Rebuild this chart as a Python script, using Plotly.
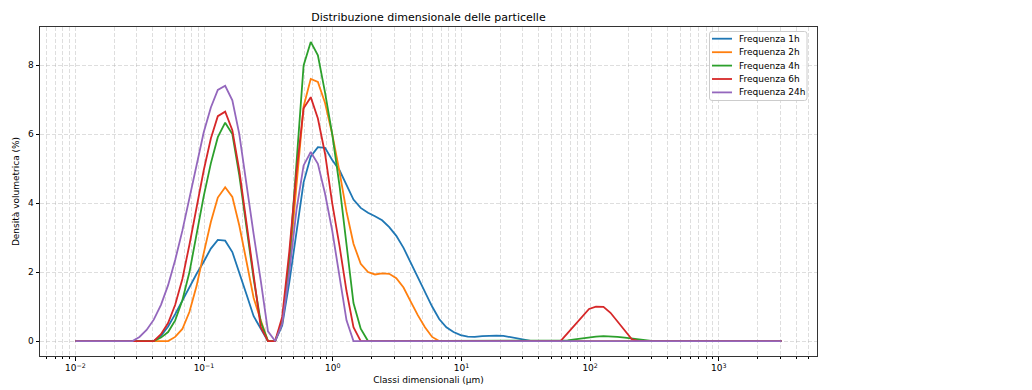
import numpy as np
import plotly.graph_objects as go

# Size classes (µm)
classes = [
    0.0100, 0.0114, 0.0129, 0.0147, 0.0167, 0.0189, 0.0215, 0.0244, 0.0278, 0.0315,
    0.0358, 0.0407, 0.0463, 0.0526, 0.0597, 0.0679, 0.0771, 0.0876, 0.0995, 0.113,
    0.128, 0.146, 0.166, 0.188, 0.214, 0.243, 0.276, 0.314, 0.357, 0.405,
    0.460, 0.523, 0.594, 0.675, 0.767, 0.872, 0.991, 1.13, 1.28, 1.45,
    1.65, 1.88, 2.13, 2.42, 2.75, 3.12, 3.55, 4.03, 4.58, 5.21,
    5.92, 6.72, 7.64, 8.68, 9.86, 11.2, 12.7, 14.5, 16.4, 18.7,
    21.2, 24.1, 27.4, 31.1, 35.3, 40.1, 45.6, 51.8, 58.9, 66.9,
    76.0, 86.4, 98.1, 111, 127, 144, 163, 186, 211, 240,
    272, 310, 352, 400, 454, 516, 586, 666, 756, 859,
    976, 1110, 1260, 1430, 1630, 1850, 2100, 2390, 2710, 3080,
]

freq_1h = [
    0, 0, 0, 0, 0, 0, 0, 0, 0, 0,
    0, 0, 0.15, 0.42, 0.78, 1.18, 1.60, 1.95, 2.30, 2.68,
    2.93, 2.91, 2.58, 2.00, 1.35, 0.72, 0.35, 0, 0, 0.45,
    1.70, 3.20, 4.60, 5.35, 5.62, 5.60, 5.25, 4.95, 4.50, 4.10,
    3.86, 3.72, 3.62, 3.50, 3.30, 3.05, 2.70, 2.27, 1.84, 1.42,
    1.00, 0.64, 0.40, 0.26, 0.17, 0.13, 0.12, 0.14, 0.16, 0.16,
    0.15, 0.11, 0.07, 0.03, 0, 0, 0, 0, 0, 0,
    0, 0, 0, 0, 0, 0, 0, 0, 0, 0,
    0, 0, 0, 0, 0, 0, 0, 0, 0, 0,
    0, 0, 0, 0, 0, 0, 0, 0, 0, 0,
]
freq_2h = [
    0, 0, 0, 0, 0, 0, 0, 0, 0, 0,
    0, 0, 0, 0, 0.12, 0.35, 0.85, 1.60, 2.55, 3.45,
    4.16, 4.46, 4.18, 3.35, 2.30, 1.25, 0.60, 0, 0, 0.55,
    2.20, 4.60, 6.80, 7.60, 7.51, 6.90, 6.00, 4.90, 3.75, 2.82,
    2.24, 2.00, 1.93, 1.96, 1.95, 1.82, 1.55, 1.15, 0.75, 0.40,
    0.12, 0, 0, 0, 0, 0, 0, 0, 0, 0,
    0, 0, 0, 0, 0, 0, 0, 0, 0, 0,
    0, 0, 0, 0, 0, 0, 0, 0, 0, 0,
    0, 0, 0, 0, 0, 0, 0, 0, 0, 0,
    0, 0, 0, 0, 0, 0, 0, 0, 0, 0,
]
freq_4h = [
    0, 0, 0, 0, 0, 0, 0, 0, 0, 0,
    0, 0, 0.10, 0.26, 0.60, 1.18, 2.00, 3.10, 4.20, 5.15,
    5.91, 6.33, 6.00, 4.80, 3.30, 1.80, 0.55, 0, 0, 0.55,
    2.30, 5.10, 7.99, 8.67, 8.28, 7.20, 6.00, 4.50, 2.85, 1.10,
    0.36, 0, 0, 0, 0, 0, 0, 0, 0, 0,
    0, 0, 0, 0, 0, 0, 0, 0, 0, 0,
    0, 0, 0, 0, 0, 0, 0, 0, 0, 0.02,
    0.05, 0.08, 0.11, 0.13, 0.14, 0.14, 0.12, 0.10, 0.07, 0.04,
    0.01, 0, 0, 0, 0, 0, 0, 0, 0, 0,
    0, 0, 0, 0, 0, 0, 0, 0, 0, 0,
]
freq_6h = [
    0, 0, 0, 0, 0, 0, 0, 0, 0, 0,
    0, 0, 0.20, 0.52, 1.05, 1.80, 2.80, 3.90, 4.95, 5.87,
    6.52, 6.65, 6.11, 4.95, 3.40, 1.80, 0.40, 0, 0, 0.70,
    2.60, 4.90, 6.75, 7.07, 6.45, 5.43, 4.00, 2.75, 1.45, 0.40,
    0, 0, 0, 0, 0, 0, 0, 0, 0, 0,
    0, 0, 0, 0, 0, 0, 0, 0, 0, 0,
    0, 0, 0, 0, 0, 0, 0, 0, 0, 0.23,
    0.46, 0.72, 0.93, 1.00, 0.99, 0.82, 0.57, 0.30, 0.05, 0,
    0, 0, 0, 0, 0, 0, 0, 0, 0, 0,
    0, 0, 0, 0, 0, 0, 0, 0, 0, 0,
]
freq_24h = [
    0, 0, 0, 0, 0, 0, 0, 0, 0, 0.12,
    0.32, 0.62, 1.05, 1.62, 2.35, 3.20, 4.15, 5.15, 6.05, 6.77,
    7.28, 7.40, 6.98, 6.00, 4.50, 3.10, 1.75, 0.28, 0, 0.50,
    2.00, 3.80, 5.09, 5.48, 5.14, 4.27, 3.20, 1.90, 0.60, 0,
    0, 0, 0, 0, 0, 0, 0, 0, 0, 0,
    0, 0, 0, 0, 0, 0, 0, 0, 0, 0,
    0, 0, 0, 0, 0, 0, 0, 0, 0, 0,
    0, 0, 0, 0, 0, 0, 0, 0, 0, 0,
    0, 0, 0, 0, 0, 0, 0, 0, 0, 0,
    0, 0, 0, 0, 0, 0, 0, 0, 0, 0,
]

series_names = ["Frequenza 1h", "Frequenza 2h", "Frequenza 4h", "Frequenza 6h", "Frequenza 24h"]
series_values = [freq_1h, freq_2h, freq_4h, freq_6h, freq_24h]
colors = ["#1f77b4", "#ff7f0e", "#2ca02c", "#d62728", "#9467bd"]

x_major = [1e-2, 1e-1, 1e0, 1e1, 1e2, 1e3]
x_major_text = ["10<sup>−2</sup>", "10<sup>−1</sup>", "10<sup>0</sup>",
                "10<sup>1</sup>", "10<sup>2</sup>", "10<sup>3</sup>"]
y_ticks = [0, 2, 4, 6, 8]

FONT = "DejaVu Sans"
W, H = 1032, 390
ML, MR, MT, MB = 40, 215, 27, 34

fig = go.Figure()
for name, vals, col in zip(series_names, series_values, colors):
    fig.add_trace(go.Scatter(x=classes, y=vals, mode="lines", name=name,
                             line=dict(color=col, width=1.8), showlegend=False))

# axis ranges with matplotlib-like 5% margins
lx0, lx1 = np.log10(min(classes)), np.log10(max(classes))
dx = (lx1 - lx0) * 0.05
ymax = max(max(v) for v in series_values)
ymin = 0.0
dy = (ymax - ymin) * 0.05

minor_vals = [k * 10.0 ** e for e in range(-3, 4) for k in range(2, 10)]
grid_col = "rgba(176,176,176,0.42)"

fig.update_xaxes(
    type="log", range=[lx0 - dx, lx1 + dx],
    tickmode="array", tickvals=x_major, ticktext=x_major_text,
    ticks="outside", ticklen=3.5, tickwidth=0.8, tickcolor="#000",
    showgrid=True, gridcolor=grid_col, griddash="4px,2px", gridwidth=0.8,
    minor=dict(tickmode="array", tickvals=minor_vals, ticks="outside", ticklen=2,
               tickwidth=0.6, tickcolor="#000", showgrid=True, gridcolor=grid_col,
               griddash="4px,2px", gridwidth=0.8),
    showline=True, linecolor="#333", linewidth=1, mirror=True,
    zeroline=False,
    tickfont=dict(family=FONT, size=9, color="#000"),
    title=dict(text="Classi dimensionali (µm)", font=dict(family=FONT, size=9, color="#000"),
               standoff=4),
)
fig.update_yaxes(
    range=[ymin - dy, ymax + dy],
    tickmode="array", tickvals=y_ticks,
    ticks="outside", ticklen=3.5, tickwidth=0.8, tickcolor="#000",
    showgrid=True, gridcolor=grid_col, griddash="4px,2px", gridwidth=0.8,
    showline=True, linecolor="#333", linewidth=1, mirror=True,
    zeroline=False,
    tickfont=dict(family=FONT, size=9, color="#000"),
    title=dict(text="Densità volumetrica (%)", font=dict(family=FONT, size=9, color="#000"),
               standoff=6),
)

# pixel -> paper helpers for the legend box
pw, ph = W - ML - MR, H - MT - MB
def px2x(px):
    return (px - ML) / pw
def px2y(py):
    return (H - MB - py) / ph

shapes = []
# legend frame (rounded)
bx0, bx1, by0, by1, r = 709.5, 807, 31.5, 100.5, 2.5
path = (f"M {px2x(bx0 + r)},{px2y(by0)} L {px2x(bx1 - r)},{px2y(by0)} "
        f"Q {px2x(bx1)},{px2y(by0)} {px2x(bx1)},{px2y(by0 + r)} "
        f"L {px2x(bx1)},{px2y(by1 - r)} Q {px2x(bx1)},{px2y(by1)} {px2x(bx1 - r)},{px2y(by1)} "
        f"L {px2x(bx0 + r)},{px2y(by1)} Q {px2x(bx0)},{px2y(by1)} {px2x(bx0)},{px2y(by1 - r)} "
        f"L {px2x(bx0)},{px2y(by0 + r)} Q {px2x(bx0)},{px2y(by0)} {px2x(bx0 + r)},{px2y(by0)} Z")
shapes.append(dict(type="path", xref="paper", yref="paper", path=path,
                   fillcolor="rgba(255,255,255,0.8)", line=dict(color="#cccccc", width=1)))
annotations = []
rows_y = [38.7, 52.2, 65.6, 79.0, 92.4]
for name, col, ry in zip(series_names, colors, rows_y):
    shapes.append(dict(type="line", xref="paper", yref="paper",
                       x0=px2x(712), x1=px2x(732), y0=px2y(ry), y1=px2y(ry),
                       line=dict(color=col, width=1.8)))
    annotations.append(dict(xref="paper", yref="paper", x=px2x(736.5), y=px2y(ry),
                            xanchor="left", yanchor="middle", showarrow=False,
                            text=name, font=dict(family=FONT, size=9, color="#000")))

fig.update_layout(
    width=W, height=H,
    margin=dict(l=ML, r=MR, t=MT, b=MB, autoexpand=False),
    paper_bgcolor="white", plot_bgcolor="white",
    title=dict(text="Distribuzione dimensionale delle particelle",
               font=dict(family=FONT, size=11, color="#000"),
               x=0.5, xref="paper", xanchor="center",
               y=1 - 17 / H, yref="container", yanchor="middle"),
    shapes=shapes, annotations=annotations,
    showlegend=False,
)

fig.write_html("out.html")
